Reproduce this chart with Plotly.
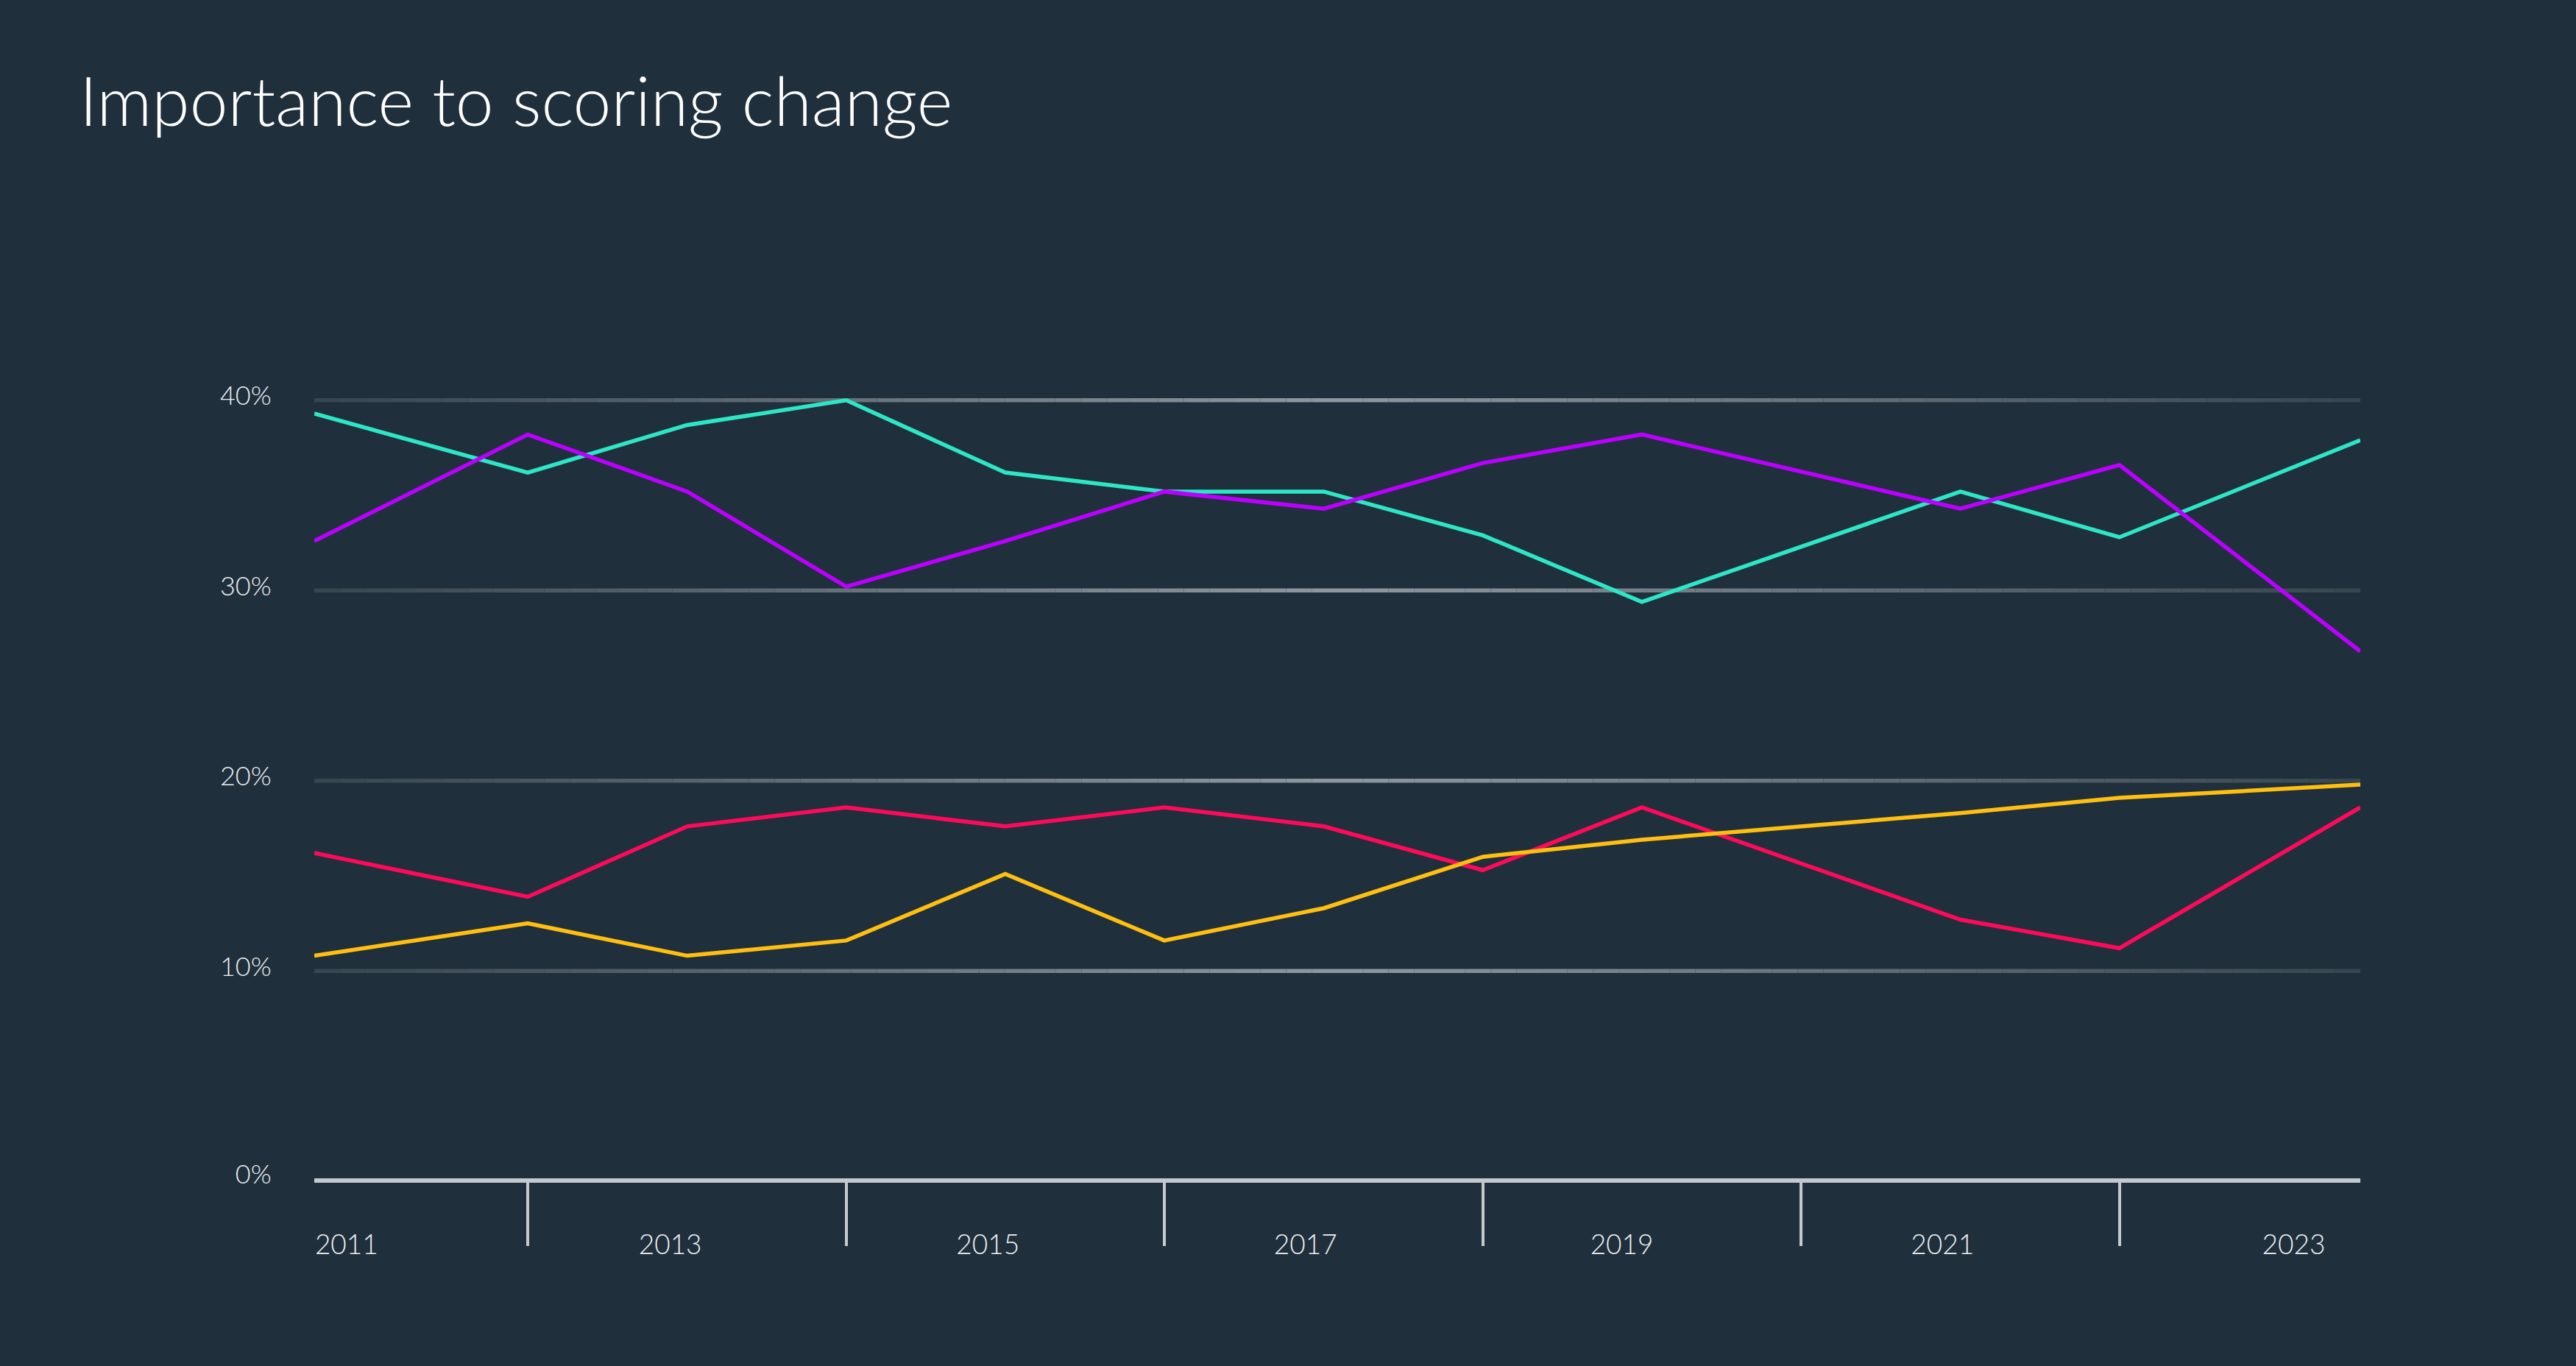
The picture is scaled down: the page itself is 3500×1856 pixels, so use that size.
import plotly.graph_objects as go

# ---- data ----
survey_dates = ["2010-08-29", "2012-01-01", "2013-01-01", "2014-01-01", "2015-01-01",
                "2016-01-01", "2017-01-01", "2018-01-01", "2019-01-01", "2021-01-01",
                "2022-01-01", "2023-07-08"]

teal_values   = [39.3, 36.2, 38.7, 40.0, 36.2, 35.2, 35.2, 32.9, 29.4, 35.2, 32.8, 37.9]
purple_values = [32.6, 38.2, 35.2, 30.2, 32.6, 35.2, 34.3, 36.7, 38.2, 34.3, 36.6, 26.8]
red_values    = [16.2, 13.9, 17.6, 18.6, 17.6, 18.6, 17.6, 15.3, 18.6, 12.7, 11.2, 18.6]
yellow_values = [10.8, 12.5, 10.8, 11.6, 15.1, 11.6, 13.3, 16.0, 16.9, 18.3, 19.1, 19.8]

x_tick_labels = ["2011", "2013", "2015", "2017", "2019", "2021", "2023"]
x_tick_dates  = ["2010-11-11", "2012-11-23", "2014-11-22", "2016-11-20",
                 "2018-11-16", "2020-11-21", "2023-02-05"]
separator_dates = ["2012-01-01", "2014-01-01", "2016-01-01", "2018-01-01",
                   "2020-01-01", "2022-01-01"]
y_grid_values = [10, 20, 30, 40]
y_tick_labels = ["0%", "10%", "20%", "30%", "40%"]

# ---- styles ----
BG = "#1f2f3c"
TEXT = "#eef0f2"
AXIS = "#c5c9ce"
FONT = "Lato, 'Open Sans', sans-serif"

series = [
    ("Teal", teal_values, "#2ee5c5"),
    ("Purple", purple_values, "#bb00ff"),
    ("Red", red_values, "#ff0a5a"),
    ("Yellow", yellow_values, "#ffbf10"),
]

fig = go.Figure()
for name, vals, col in series:
    fig.add_trace(go.Scatter(x=survey_dates, y=vals, mode="lines", name=name,
                             line=dict(color=col, width=5.5), showlegend=False))

y_min = -0.9
y_max = 41

# gradient gridlines
N = 80
edge = (55, 69, 79)
mid = (145, 153, 159)
shapes = []
for gv in y_grid_values:
    for i in range(N):
        t = 1 - abs((i + 0.5) / N - 0.5) * 2
        c = tuple(int(edge[k] + (mid[k] - edge[k]) * t) for k in range(3))
        shapes.append(dict(type="line", xref="paper", yref="y",
                           x0=i / N, x1=(i + 1) / N, y0=gv, y1=gv,
                           line=dict(color="rgb(%d,%d,%d)" % c, width=5.5),
                           layer="below"))

fig.update_layout(
    width=3500, height=1856,
    paper_bgcolor=BG, plot_bgcolor=BG,
    margin=dict(l=427, r=293, t=518, b=255),
    font=dict(family=FONT, color=TEXT, size=36, weight=300),
    title=dict(text="Importance to scoring change", x=108 / 3500, xref="container",
               xanchor="left", y=1 - 106 / 1856, yref="container", yanchor="top",
               font=dict(family=FONT, size=93, color="#ffffff", weight=300)),
    shapes=shapes,
    xaxis=dict(
        type="date",
        range=[survey_dates[0], survey_dates[-1]],
        showgrid=False, zeroline=False,
        showline=True, linecolor=AXIS, linewidth=6,
        tickmode="array", tickvals=x_tick_dates, ticktext=x_tick_labels,
        ticks="outside", ticklen=53, tickcolor="rgba(0,0,0,0)",
        tickfont=dict(size=37, color=TEXT, weight=300),
        minor=dict(tickmode="array", tickvals=separator_dates, ticks="outside",
                   ticklen=86, tickwidth=4, tickcolor=AXIS, showgrid=False),
    ),
    yaxis=dict(
        range=[y_min, y_max],
        showgrid=False, zeroline=False, showline=False,
        tickmode="array", tickvals=[y_min] + y_grid_values, ticktext=y_tick_labels,
        ticks="outside", ticklen=50, tickcolor="rgba(0,0,0,0)",
        ticklabelshift=-6,
        tickfont=dict(size=36, color=TEXT, weight=300),
    ),
    hovermode=False,
)

fig.write_html("out.html", config={"displayModeBar": False},
               post_script="document.body.style.margin='0';document.body.style.background='%s';" % BG)
